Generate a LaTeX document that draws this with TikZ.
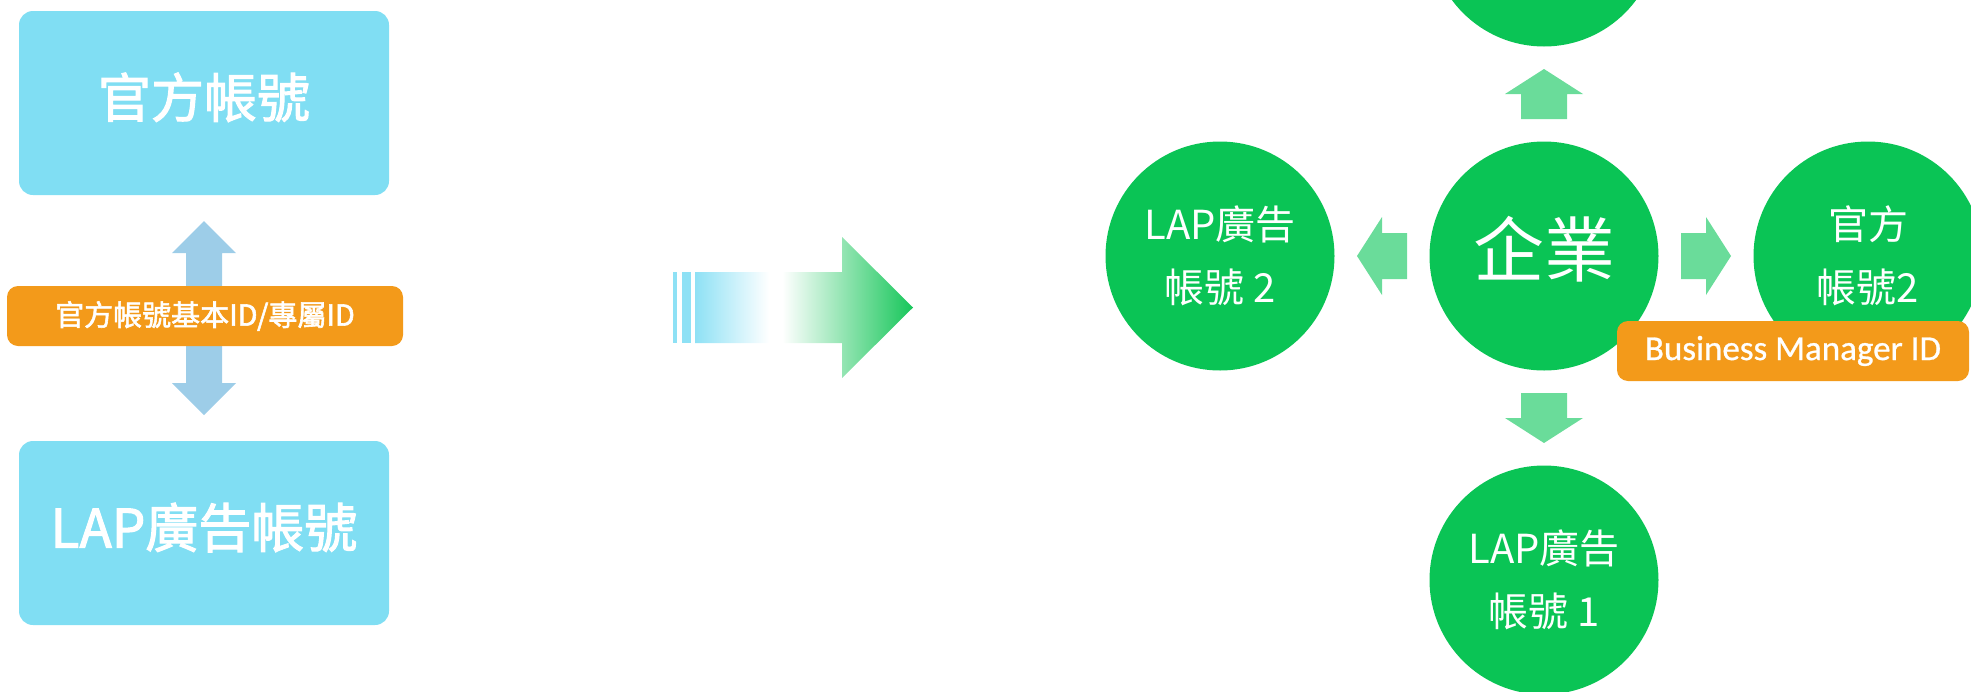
\documentclass[tikz,border=0pt]{standalone}
\usepackage{fontspec}
\setmainfont{Noto Sans CJK TC}
\newfontfamily\boxfont[FakeBold=2]{Noto Sans CJK TC}
\newfontfamily\bmfont[FakeBold=0.8]{Carlito}
\usetikzlibrary{calc}

\definecolor{boxblue}{HTML}{80DEF3}
\definecolor{linkblue}{HTML}{9DCDE8}
\definecolor{idorange}{HTML}{F39A1A}
\definecolor{entgreen}{HTML}{0AC455}
\definecolor{pointgreen}{HTML}{6ADC9A}
\definecolor{fadeblue}{HTML}{8EE1F5}
\definecolor{fadegreen}{HTML}{17C65A}

\pgfdeclarehorizontalshading{fadearrow}{100bp}{color(0bp)=(fadeblue); color(25bp)=(fadeblue); color(42bp)=(white); color(45bp)=(white); color(75bp)=(fadegreen); color(100bp)=(fadegreen)}

\begin{document}
\begin{tikzpicture}[x=1pt, y=-1pt,
  acctbox/.style={fill=boxblue, rounded corners=14pt, inner sep=0pt,
    minimum width=370pt, minimum height=184pt, text=white,
    text height=39pt, text depth=10pt,
    font=\boxfont\fontsize{53}{60}\selectfont},
  idtag/.style={fill=idorange, rounded corners=11pt, inner sep=0pt,
    minimum height=60pt, text=white},
  bubble/.style={circle, fill=entgreen, minimum size=229pt, inner sep=0pt,
    text=white, align=center, font=\fontsize{40}{63}\selectfont}]

  \useasboundingbox (0,0) rectangle (1971,691);
  \clip (0,0) rectangle (1971,691);

  % left: two accounts
  \node[acctbox] (oa) at (204,103) {官方帳號};
  \node[acctbox] (lap) at (204,533) {LAP廣告帳號};

  \fill[linkblue, shift={($(oa.south)!.5!(lap.north)$)}]
    (0,-97) -- (32,-65) -- (18,-65) -- (18,65) -- (32,65) -- (0,97)
    -- (-32,65) -- (-18,65) -- (-18,-65) -- (-32,-65) -- cycle;

  \node[idtag, minimum width=396pt, font=\boxfont\fontsize{29}{34}\selectfont]
    (basicid) at (205,316) {官方帳號基本ID/專屬ID};

  % middle arrow
  \fill[fadeblue] (673,272) rectangle (677,343);
  \fill[fadeblue] (682,272) rectangle (691,343);
  \shade[shading=fadearrow] (695,272) -- (842,272) -- (842,237) -- (913,307.5)
    -- (842,378) -- (842,343) -- (695,343) -- cycle;

  % right: business manager
  \node[bubble, text height=52pt, text depth=12pt,
    font=\fontsize{71}{80}\selectfont] (ent) at (1544,256) {企業};
  \node[bubble] (upper) at (1544,-68) {};
  \node[bubble] (lap2) at (1220,256) {LAP廣告\\帳號 2};
  \node[bubble] (oa2) at (1868,256) {官方\\帳號2};
  \node[bubble] (lap1) at (1544,580) {LAP廣告\\帳號 1};

  \foreach \n/\a in {upper/90, lap2/180, oa2/0, lap1/-90}
    \fill[pointgreen, shift={($(ent)!.5!(\n)$)}, rotate=\a]
      (25,0) -- (0,39) -- (0,23) -- (-25,23) -- (-25,-23) -- (0,-23)
      -- (0,-39) -- cycle;

  \node[idtag, minimum width=352pt, font=\bmfont\fontsize{35}{40}\selectfont]
    (bmid) at (1793,351) {Business Manager ID};
\end{tikzpicture}
\end{document}
